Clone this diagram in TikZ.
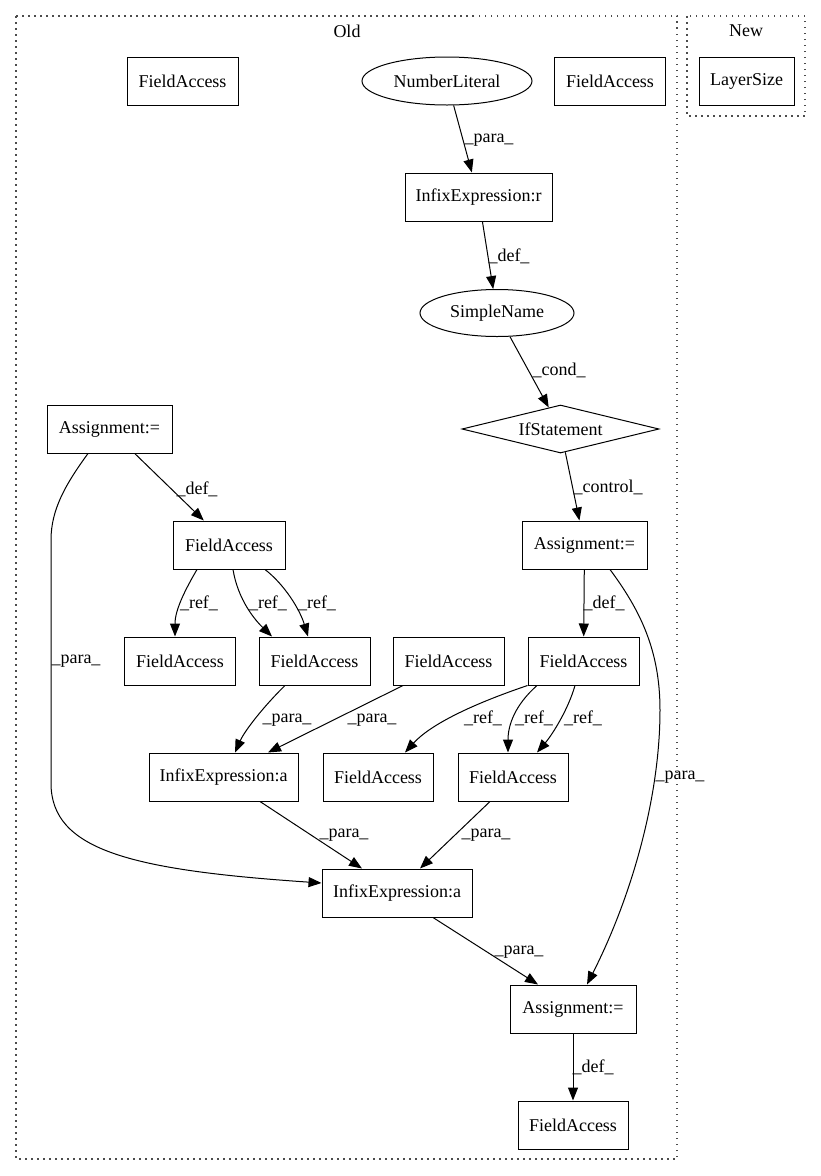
\documentclass[tikz,border=0pt]{standalone}
\usepackage{fontspec}
\setmainfont{Liberation Serif}
\usetikzlibrary{arrows.meta,shapes.geometric}
\begin{document}
\begin{tikzpicture}[x=1pt,y=-1pt,
  every node/.style={font=\fontsize{18}{20}\selectfont},
  box/.style={draw,rectangle,line width=1pt,minimum height=48pt,inner sep=0pt},
  oval/.style={draw,ellipse,line width=1pt,minimum height=48pt,inner sep=0pt},
  dmd/.style={draw,diamond,line width=1pt,aspect=4,inner sep=0pt,minimum width=197pt,minimum height=48pt},
  edge/.style={draw,line width=1pt,-{Triangle[length=13pt,width=10pt]}},
  lbl/.style={inner sep=0pt},
  cluster/.style={draw=black!70,line width=1.2pt,dash pattern=on 1.5pt off 4.5pt}
]
\useasboundingbox (0,0) rectangle (821,1176);
% clusters
\draw[cluster] (16,16) rectangle (677,1159);
\draw[cluster] (687,16) rectangle (805,116);
\node[lbl] (oldlbl) at (347,31) {Old};
\node[lbl] (newlbl) at (746,31) {New};
% nodes
\node[box,minimum width=111pt] (fa1) at (182.5,81) {FieldAccess};
\node[oval,minimum width=170pt] (nl) at (447,81) {NumberLiteral};
\node[box,minimum width=111pt] (fa2) at (610,81) {FieldAccess};
\node[box,minimum width=95pt] (ls) at (746.5,81) {LayerSize};
\node[box,minimum width=147pt] (ir) at (478.5,197) {InfixExpression:r};
\node[oval,minimum width=154pt,minimum height=47pt] (sn) at (497,313) {SimpleName};
\node[dmd] (ifs) at (560.5,429) {IfStatement};
\node[box,minimum width=125pt] (as1) at (109.5,429) {Assignment:=};
\node[box,minimum width=112pt] (fa3) at (229,545) {FieldAccess};
\node[box,minimum width=125pt] (as2) at (584.5,545) {Assignment:=};
\node[box,minimum width=111pt] (fa4) at (180,661) {FieldAccess};
\node[box,minimum width=111pt] (fa5) at (314.5,661) {FieldAccess};
\node[box,minimum width=111pt] (fa6) at (448.5,661) {FieldAccess};
\node[box,minimum width=111pt] (fa7) at (583.5,661) {FieldAccess};
\node[box,minimum width=149pt] (ia1) at (223.5,777) {InfixExpression:a};
\node[box,minimum width=110pt] (fa8) at (378,777) {FieldAccess};
\node[box,minimum width=110pt] (fa9) at (513,777) {FieldAccess};
\node[box,minimum width=150pt] (ia2) at (397,893) {InfixExpression:a};
\node[box,minimum width=126pt] (as3) at (573,1009) {Assignment:=};
\node[box,minimum width=110pt] (fa10) at (573,1125) {FieldAccess};
% edges
\draw[edge] (nl) -- (ir);
\node[lbl] (l1) at (489,140) {\_para\_};
\draw[edge] (ir) -- (sn);
\node[lbl] (l2) at (509,256) {\_def\_};
\draw[edge] (sn) -- (ifs);
\node[lbl] (l3) at (559,370) {\_cond\_};
\draw[edge] (ifs) -- (as2);
\node[lbl] (l4) at (608,487) {\_control\_};
\draw[edge] (as1) -- (fa3);
\node[lbl] (l5) at (197,489) {\_def\_};
\draw[edge] ([xshift=-21.5pt]as1.south) .. controls (65,485) and (51,510) .. (51,540)
  -- (51,783) .. controls (51,850) and (130,870) .. ([yshift=10pt]ia2.west);
\node[lbl] (l6) at (76,661) {\_para\_};
\draw[edge] ([xshift=-32pt]fa3.south) .. controls (185,590) and (175,610) .. ([xshift=-5pt]fa4.north);
\node[lbl] (l7) at (199,603) {\_ref\_};
\draw[edge] ([xshift=4pt]fa3.south) .. controls (238,600) and (255,620) .. ([xshift=-42.5pt]fa5.north);
\node[lbl] (l8) at (268,603) {\_ref\_};
\draw[edge] ([xshift=36pt]fa3.south) .. controls (285,585) and (300,610) .. ([xshift=-6.5pt]fa5.north);
\node[lbl] (l9) at (317,603) {\_ref\_};
\draw[edge] ([xshift=-29.5pt]fa5.south) .. controls (265,705) and (245,730) .. ([xshift=11.5pt]ia1.north);
\node[lbl] (l10) at (287,720) {\_para\_};
\draw[edge] ([xshift=-45.5pt]fa6.south) -- ([xshift=44.5pt]ia1.north);
\node[lbl] (l11) at (372,720) {\_para\_};
\draw[edge] (as2) -- (fa7);
\node[lbl] (l12) at (604,603) {\_def\_};
\draw[edge] ([xshift=25.5pt]as2.south) .. controls (640,610) and (660,650) .. (660,710)
  .. controls (660,800) and (630,900) .. ([xshift=14pt]as3.north);
\node[lbl] (l13) at (680,777) {\_para\_};
\draw[edge] (fa7.south west) .. controls (470,705) and (430,725) .. ([xshift=27pt]fa8.north);
\node[lbl] (l14) at (483,718) {\_ref\_};
\draw[edge] ([xshift=-46.5pt]fa7.south) .. controls (515,705) and (508,725) .. ([xshift=-5pt]fa9.north);
\node[lbl] (l15) at (534,718) {\_ref\_};
\draw[edge] ([xshift=-8.5pt]fa7.south) .. controls (568,710) and (552,735) .. ([xshift=24pt]fa9.north);
\node[lbl] (l16) at (583,718) {\_ref\_};
\draw[edge] ([xshift=36.5pt]ia1.south) -- ([xshift=-35pt]ia2.north);
\node[lbl] (l17) at (344,835) {\_para\_};
\draw[edge] ([xshift=-23pt]fa9.south) -- ([xshift=23pt]ia2.north);
\node[lbl] (l18) at (486,835) {\_para\_};
\draw[edge] ([xshift=36pt]ia2.south) -- ([xshift=-35pt]as3.north);
\node[lbl] (l19) at (519,952) {\_para\_};
\draw[edge] (as3) -- (fa10);
\node[lbl] (l20) at (593,1067) {\_def\_};
\end{tikzpicture}
\end{document}
